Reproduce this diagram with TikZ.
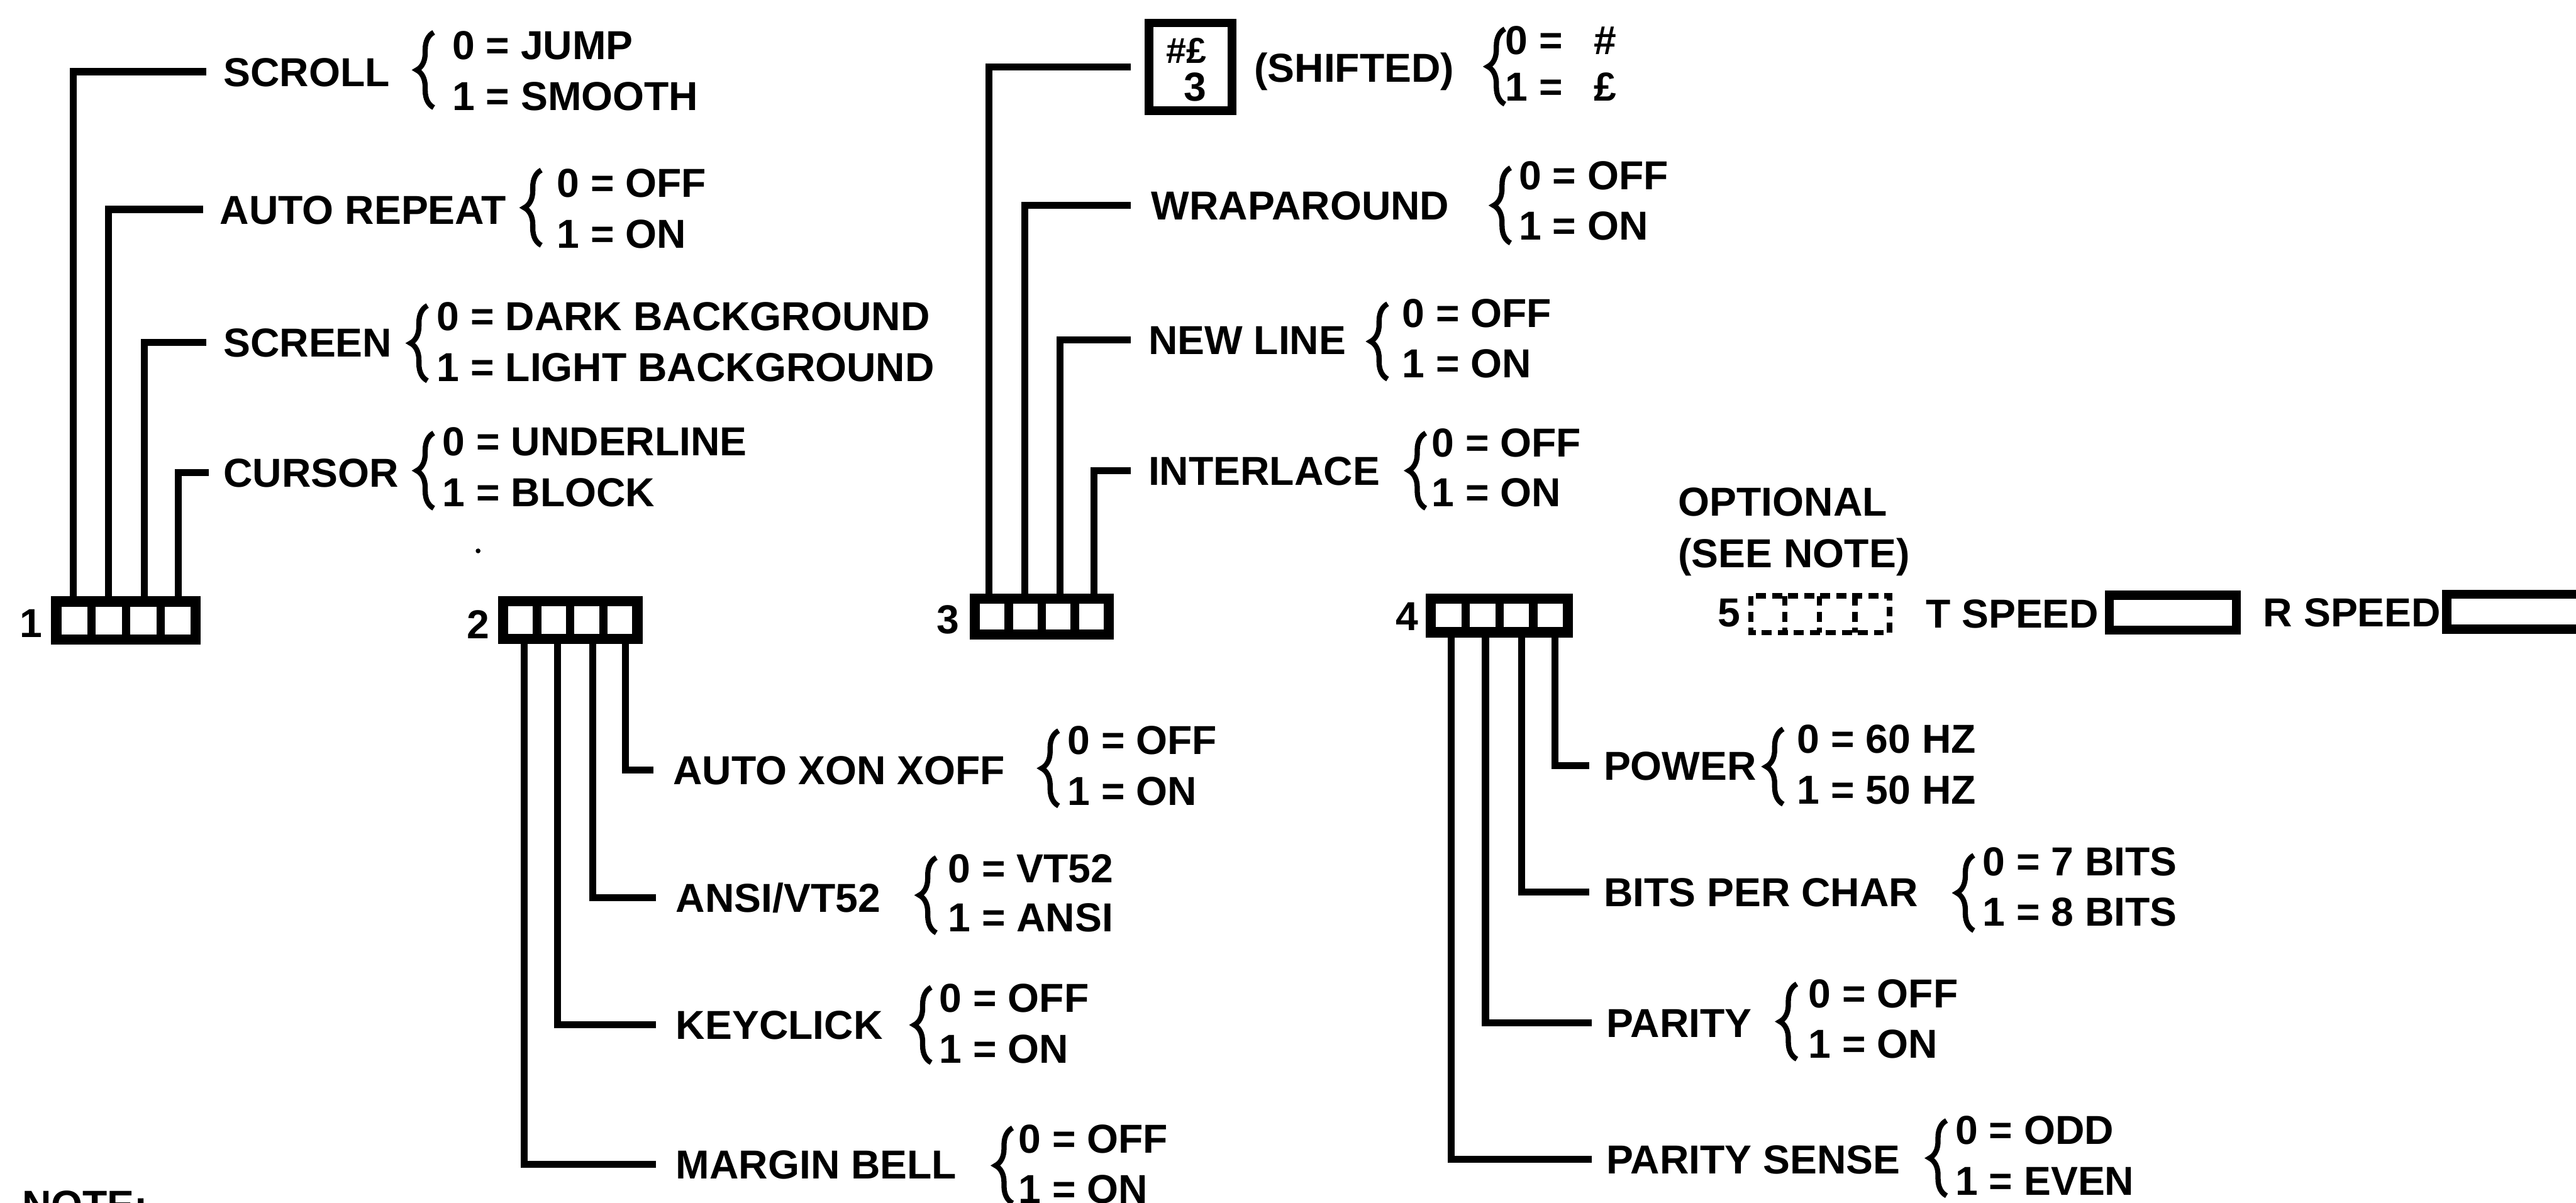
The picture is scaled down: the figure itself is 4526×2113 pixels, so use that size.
\documentclass[tikz,border=0pt]{standalone}
\usepackage{fontspec}
\setmainfont{Liberation Sans}
\usetikzlibrary{decorations.pathreplacing}
\newcommand\fs{\fontsize{20.2pt}{24pt}\selectfont\bfseries}
\tikzset{
  lbl/.style={anchor=west, inner sep=0pt, font=\fs, text height=14.5pt, text depth=0pt},
  ctr/.style={anchor=center, inner sep=0pt, font=\fs, text height=14.5pt, text depth=0pt},
  wire/.style={line width=3.5pt, line join=miter, line cap=butt},
  boxout/.style={line width=5.1pt, line join=miter},
  boxdiv/.style={line width=4.2pt},
  brc/.style={decorate, decoration={brace, amplitude=8.5pt}, line width=2.6pt},
  keybox/.style={draw, line width=4.3pt, minimum width=41.5pt, minimum height=43.8pt, inner sep=0pt},
  spdbox/.style={draw, line width=4.5pt, minimum width=63.5pt, minimum height=17.4pt, inner sep=0pt},
  dbox/.style={line width=2.6pt, dash pattern=on 5pt off 3pt}
}
\newcommand\swbox[4]{%
  \draw[boxout] (#1+9,#2+9) rectangle (#3-9,#4-9);
  \pgfmathsetmacro\swcw{(#3-#1-36-45)/4}
  \foreach \k in {1,2,3}{\draw[boxdiv] ({#1+18+\k*\swcw+(\k-0.5)*15},#2+9) -- ({#1+18+\k*\swcw+(\k-0.5)*15},#4-9);}
}
\newcommand\optg[8]{%
  \draw[brc] (#2+30,#3+66) -- (#2+30,#3-66);
  \node[lbl] (#1-0) at (#4,#5) {#7};
  \node[lbl] (#1-1) at (#4,#6) {#8};
}
\begin{document}
\begin{tikzpicture}[x=0.01cm, y=-0.01cm]
\path[use as bounding box] (0,0) rectangle (4526,2113);
\clip (0,0) rectangle (4526,2113);

% ---------- switch blocks ----------
\swbox{90}{1048}{353}{1133}
\swbox{875}{1047}{1129}{1132}
\swbox{1704}{1043}{1957}{1124}
\swbox{2505}{1043}{2764}{1120}
\node[ctr] (n1) at (55,1094) {1};
\node[ctr] (n2) at (840,1097) {2};
\node[ctr] (n3) at (1666,1088) {3};
\node[ctr] (n4) at (2472,1082) {4};

% wire ends on the boxes
\coordinate (w1a) at (129,1048); \coordinate (w1b) at (191,1048);
\coordinate (w1c) at (254,1048); \coordinate (w1d) at (313,1048);
\coordinate (w2a) at (921,1132); \coordinate (w2b) at (980,1132);
\coordinate (w2c) at (1041,1132); \coordinate (w2d) at (1099,1132);
\coordinate (w3a) at (1738,1043); \coordinate (w3b) at (1801,1043);
\coordinate (w3c) at (1862,1043); \coordinate (w3d) at (1922,1043);
\coordinate (w4a) at (2550,1120); \coordinate (w4b) at (2610,1120);
\coordinate (w4c) at (2673,1120); \coordinate (w4d) at (2732,1120);

% ---------- block 1 ----------
\node[lbl] (scroll) at (392,126) {SCROLL};
\node[lbl] (autorep) at (386,368) {AUTO REPEAT};
\node[lbl] (screen) at (392,602) {SCREEN};
\node[lbl] (cursor) at (392,830) {CURSOR};
\draw[wire, shorten >=8.3pt] (w1a) |- (scroll.west);
\draw[wire, shorten >=8.3pt] (w1b) |- (autorep.west);
\draw[wire, shorten >=8.3pt] (w1c) |- (screen.west);
\draw[wire, shorten >=7pt] (w1d) |- (cursor.west);
\optg{o1}{732}{123}{794}{79}{168}{0 = JUMP}{1 = SMOOTH}
\optg{o2}{921}{365}{978}{321}{410}{0 = OFF}{1 = ON}
\optg{o3}{721}{603}{767}{555}{645}{0 = DARK BACKGROUND}{1 = LIGHT BACKGROUND}
\optg{o4}{732}{827}{777}{775}{865}{0 = UNDERLINE}{1 = BLOCK}
\fill (840,968) circle [radius=1.2pt];

% ---------- block 2 ----------
\node[lbl] (xon) at (1182,1353) {AUTO XON XOFF};
\node[lbl] (ansi) at (1187,1577) {ANSI/VT52};
\node[lbl] (keyclick) at (1187,1801) {KEYCLICK};
\node[lbl] (margin) at (1187,2046) {MARGIN BELL};
\draw[wire, shorten >=9.7pt] (w2d) |- (xon.west);
\draw[wire, shorten >=9.7pt] (w2c) |- (ansi.west);
\draw[wire, shorten >=9.7pt] (w2b) |- (keyclick.west);
\draw[wire, shorten >=9.7pt] (w2a) |- (margin.west);
\optg{o5}{1830}{1350}{1875}{1300}{1389}{0 = OFF}{1 = ON}
\optg{o6}{1615}{1573}{1665}{1525}{1611}{0 = VT52}{1 = ANSI}
\optg{o7}{1606}{1801}{1650}{1753}{1842}{0 = OFF}{1 = ON}
\optg{o8}{1749}{2048}{1789}{2000}{2089}{0 = OFF}{1 = ON}

% ---------- block 3 ----------
\node[keybox] (key) at (2091.5,117.5) {};
\node[ctr, font=\fontsize{18pt}{20pt}\selectfont\bfseries] (keysym) at (2084,86) {\#£};
\node[ctr] (keynum) at (2100,152) {3};
\node[lbl] (shifted) at (2203,119) {(SHIFTED)};
\node[lbl] (wrap) at (2022,361) {WRAPAROUND};
\node[lbl] (newline) at (2017,597) {NEW LINE};
\node[lbl] (interlace) at (2017,827) {INTERLACE};
\draw[wire, shorten >=6.8pt] (w3a) |- (key.west);
\draw[wire, shorten >=10pt] (w3b) |- (wrap.west);
\draw[wire, shorten >=8.5pt] (w3c) |- (newline.west);
\draw[wire, shorten >=8.5pt] (w3d) |- (interlace.west);
\optg{o9}{2614}{117}{2644}{70}{152}{0 = \hspace{10pt}\#}{1 = \hspace{10pt}£}
\optg{o10}{2624}{361}{2668}{308}{396}{0 = OFF}{1 = ON}
\optg{o11}{2408}{600}{2463}{550}{638}{0 = OFF}{1 = ON}
\optg{o12}{2475}{827}{2515}{777}{865}{0 = OFF}{1 = ON}

% ---------- block 4 ----------
\node[lbl] (power) at (2817,1345) {POWER};
\node[lbl] (bits) at (2817,1567) {BITS PER CHAR};
\node[lbl] (parity) at (2822,1797) {PARITY};
\node[lbl] (psense) at (2822,2037) {PARITY SENSE};
\draw[wire, shorten >=7.1pt] (w4d) |- (power.west);
\draw[wire, shorten >=7.1pt] (w4c) |- (bits.west);
\draw[wire, shorten >=7.1pt] (w4b) |- (parity.west);
\draw[wire, shorten >=7.1pt] (w4a) |- (psense.west);
\optg{o13}{3103}{1347}{3157}{1298}{1387}{0 = 60 HZ}{1 = 50 HZ}
\optg{o14}{3438}{1569}{3483}{1513}{1602}{0 = 7 BITS}{1 = 8 BITS}
\optg{o15}{3127}{1795}{3177}{1745}{1834}{0 = OFF}{1 = ON}
\optg{o16}{3390}{2035}{3435}{1985}{2074}{0 = ODD}{1 = EVEN}

% ---------- optional block 5 ----------
\node[lbl] (optional) at (2948,881) {OPTIONAL};
\node[lbl] (seenote) at (2948,972) {(SEE NOTE)};
\node[ctr] (n5) at (3038,1076) {5};
\draw[dbox] (3076,1047) rectangle (3320,1112);
\foreach \xx in {3136,3197,3259}{\draw[dbox] (\xx,1047) -- (\xx,1112);}
\node[lbl] (tspeed) at (3383,1078) {T SPEED};
\node[spdbox] (tbox) at (3817.5,1076.5) {};
\node[lbl] (rspeed) at (3976,1076) {R SPEED};
\node[spdbox, minimum width=69.5pt] (rbox) at (4421,1075) {};

% ---------- note ----------
\node[lbl] (note) at (38,2116) {NOTE:};
\end{tikzpicture}
\end{document}
